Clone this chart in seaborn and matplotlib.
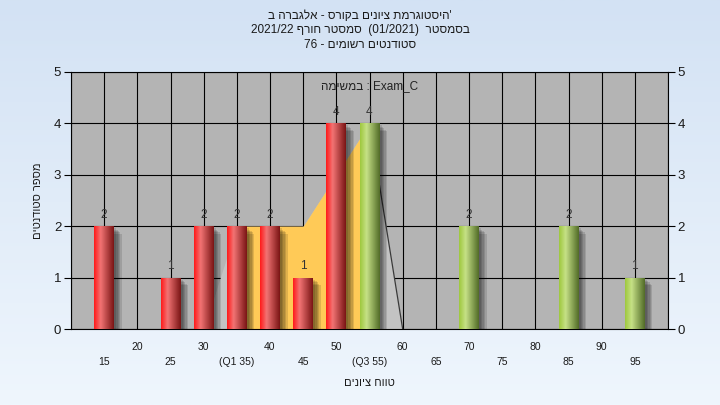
"""
Grade histogram (Hebrew course report) - red/green cylinder bars,
IQR band in yellow, light distribution area behind.
"""
import numpy as np
import pandas as pd
import matplotlib
matplotlib.use("Agg")
import matplotlib.pyplot as plt
import matplotlib.patheffects as pe
from matplotlib.colors import LinearSegmentedColormap
import seaborn as sns

# ── Data ────────────────────────────────────────────────────────────────────
grades = [15, 25, 30, 35, 40, 45, 50, 55, 70, 85, 95]
counts = [2, 1, 2, 2, 2, 1, 4, 4, 2, 2, 1]
status = ["fail"] * 7 + ["pass"] * 4

area_x = [15, 20, 25, 30, 35, 40, 45, 50, 55, 60]
area_y = [0, 0, 0, 0, 2, 2, 2, 3, 4, 0]
q1, q3 = 35, 55

major_ticks = [10, 20, 30, 40, 50, 60, 70, 80, 90, 100]
major_labels = ["", "20", "30", "40", "50", "60", "70", "80", "90", ""]
minor_ticks = [15, 25, 35, 45, 55, 65, 75, 85, 95]
minor_labels = ["15", "25", "(Q1 35)", "45", "(Q3 55)", "65", "75", "85", "95"]
y_ticks = [0, 1, 2, 3, 4, 5]

title_lines = [
    "'היסטוגרמת ציונים בקורס - אלגברה ב",
    "בסמסטר  (01/2021)  סמסטר חורף 2021/22",
    "סטודנטים רשומים - 76",
]
legend_text = "Exam_C : במשימה"
x_title = "טווח ציונים"
y_title = "מספר סטודנטים"

# ── Style ───────────────────────────────────────────────────────────────────
sns.set_style("white")
plt.rcParams["font.family"] = ["Liberation Sans", "DejaVu Sans"]

PLOT_BG = "#B4B4B4"
AREA_BG = "#C3C3C3"
IQR_CLR = "#FFCA57"
TEXT = "#1A1A1A"

red_cmap = LinearSegmentedColormap.from_list(
    "red_bar", [(0, "#FF1A1A"), (0.33, "#F27474"), (1, "#7A1515")])
green_cmap = LinearSegmentedColormap.from_list(
    "green_bar", [(0, "#9EC83E"), (0.33, "#C6E186"), (1, "#526C28")])


def rtl(s):
    """matplotlib has no bidi, so lay Hebrew words out right-to-left by hand."""
    out = []
    for tok in s.split(" ")[::-1]:
        if any("\u0590" <= c <= "\u05ff" for c in tok):
            tok = tok[::-1]
        out.append(tok)
    return " ".join(out)


fig = plt.figure(figsize=(7.2, 4.05), dpi=100)

# figure background: soft blue vertical gradient
bg = fig.add_axes([0, 0, 1, 1], zorder=-10)
grad = np.linspace(0, 1, 256).reshape(-1, 1)
bg_cmap = LinearSegmentedColormap.from_list("bg", ["#D3E2F4", "#EFF6FD"])
bg.imshow(grad, aspect="auto", cmap=bg_cmap, extent=[0, 1, 0, 1])
bg.axis("off")

ax = fig.add_axes([71 / 720, 1 - 329 / 405, 597 / 720, 257 / 405])
ax.set_facecolor(PLOT_BG)

# ── Areas behind the bars ───────────────────────────────────────────────────
ax.fill_between(area_x, area_y, color=AREA_BG, lw=0, zorder=1)
ax.plot(area_x[-2:], area_y[-2:], color="#3A3A3A", lw=0.9, zorder=1.5)
iqr_x = [x for x in area_x if q1 <= x <= q3]
iqr_y = [y for x, y in zip(area_x, area_y) if q1 <= x <= q3]
ax.fill_between(iqr_x, iqr_y, color=IQR_CLR, lw=0, zorder=1.6)

# ── Bars ────────────────────────────────────────────────────────────────────
df = pd.DataFrame({"grade": grades, "count": counts, "status": status})
sns.barplot(data=df, x="grade", y="count", hue="status",
            palette={"fail": "#D83030", "pass": "#94B84C"},
            native_scale=True, dodge=False, width=0.6, errorbar=None,
            legend=False, linewidth=0, ax=ax)

grade_status = dict(zip(grades, status))
shadow = [pe.SimplePatchShadow(offset=(d, -d), shadow_rgbFace="black", alpha=0.12)
          for d in (1.5, 2.5, 3.5, 4.5, 5.5)]
row = np.linspace(0, 1, 64).reshape(1, -1)
for p in list(ax.patches):
    p.set_zorder(3)
    p.set_path_effects(shadow + [pe.Normal()])
    x0, w, h = p.get_x(), p.get_width(), p.get_height()
    cmap = green_cmap if grade_status[round(x0 + w / 2)] == "pass" else red_cmap
    im = ax.imshow(row, cmap=cmap, aspect="auto", extent=[x0, x0 + w, 0, h],
                   zorder=3.1, interpolation="bilinear")
    im.set_clip_path(p)

for g, c in zip(grades, counts):
    ax.annotate(str(c), (g, c), xytext=(0, 4), textcoords="offset points",
                ha="center", va="bottom", fontsize=8.5, color="#333333", zorder=5)

# ── Axes, ticks, grid ───────────────────────────────────────────────────────
ax.set_xlim(10, 100)
ax.set_ylim(0, 5)
ax.set_xticks(major_ticks, major_labels)
ax.set_xticks(minor_ticks, minor_labels, minor=True)
ax.set_yticks(y_ticks)
ax.tick_params(axis="x", which="both", direction="out", length=3.5, width=0.8,
               color="black", labelsize=7.5, labelcolor=TEXT)
ax.tick_params(axis="x", which="major", pad=5.5)
ax.tick_params(axis="x", which="minor", pad=17)
ax.tick_params(axis="y", direction="out", length=5, width=0.8, color="black",
               labelsize=9.5, labelcolor=TEXT, left=True, right=True,
               labelleft=True, labelright=True, pad=2)
ax.set_axisbelow(True)
ax.grid(which="both", axis="x", color="black", lw=0.8)
ax.grid(which="major", axis="y", color="black", lw=0.8)
for s in ax.spines.values():
    s.set_color("black")
    s.set_linewidth(0.8)

ax.set_xlabel(rtl(x_title), fontsize=8, color=TEXT)
ax.set_ylabel(rtl(y_title), fontsize=8, color=TEXT)
ax.xaxis.set_label_coords(0.5, -0.19)
ax.yaxis.set_label_coords(-0.047, 0.5)

ax.text(0.5, 0.945, rtl(legend_text), transform=ax.transAxes, ha="center",
        va="center", fontsize=8.5, color="#222222", zorder=6)

for i, line in enumerate(title_lines):
    fig.text(0.5, 1 - (16 + 14.5 * i) / 405, rtl(line), ha="center", va="center",
             fontsize=8.5, color=TEXT)

fig.savefig("out.png", dpi=100)
